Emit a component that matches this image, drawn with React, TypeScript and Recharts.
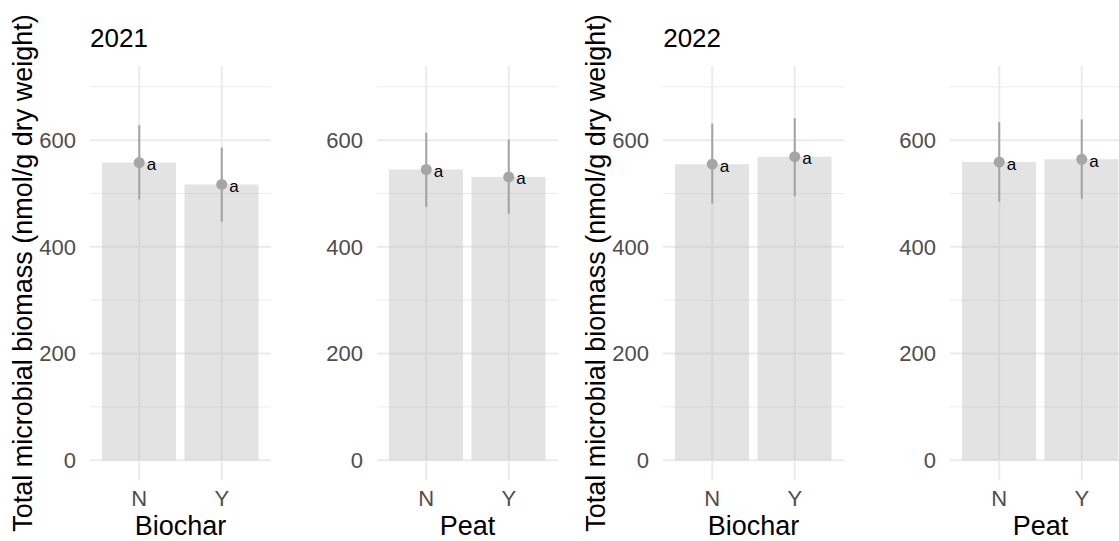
import React from 'react';
import { ComposedChart, Bar, Scatter, ErrorBar, XAxis, YAxis, CartesianGrid } from 'recharts';

// one entry per panel, left to right
const categories = ['N', 'Y'];
const panelYears = ['2021', '', '2022', ''];
const panelFactors = ['Biochar', 'Peat', 'Biochar', 'Peat'];
const showYTitle = [true, false, true, false];
const means = [[558, 517], [545, 531], [555, 569], [559, 564]];
const lows = [[489, 447], [475, 462], [481, 495], [485, 490]];
const highs = [[628, 586], [614, 601], [631, 641], [634, 639]];
const letters = [['a', 'a'], ['a', 'a'], ['a', 'a'], ['a', 'a']];
const majorTicks = [0, 200, 400, 600];
const minorTicks = [100, 300, 500, 700];
const yTitle = 'Total microbial biomass (nmol/g dry weight)';

const FONT = '"Liberation Sans", Arial, sans-serif';
const PANEL_W = 286.6;
const CHART_W = 287;
const CHART_H = 541;

const tick = { fill: '#4d4d4d', fontSize: 22, fontFamily: FONT };

const PointWithLetter = (p: any) => {
  const { cx, cy, payload } = p;
  if (cx == null || cy == null) return null;
  return (
    <g>
      <circle cx={cx} cy={cy} r={5.5} fill="#a6a6a6" />
      <text x={cx + 7.5} y={cy + 7.5} fontSize={17} fill="#000" fontFamily={FONT}>{payload.letter}</text>
    </g>
  );
};

const YTitle = () => (
  <text x={32} y={273} transform="rotate(-90, 32, 273)" textAnchor="middle"
    fontSize={27} fill="#000" fontFamily={FONT}>{yTitle}</text>
);

const XTitle = (label: string) => (props: any) => {
  const vb = props.viewBox || {};
  return (
    <text x={vb.x + vb.width / 2} y={535} textAnchor="middle" fontSize={27} fill="#000" fontFamily={FONT}>{label}</text>
  );
};

const Panel = ({ i }: { i: number }) => {
  const data = categories.map((c, k) => ({
    cat: c,
    mean: means[i][k],
    err: [means[i][k] - lows[i][k], highs[i][k] - means[i][k]],
    letter: letters[i][k],
  }));
  return (
    <div style={{ position: 'absolute', left: i * PANEL_W, top: 0, width: CHART_W, height: CHART_H }}>
      {panelYears[i] && (
        <div style={{ position: 'absolute', left: 90, top: 24.7, fontSize: 26, lineHeight: 1, color: '#000', fontFamily: FONT }}>
          {panelYears[i]}
        </div>
      )}
      <ComposedChart width={CHART_W} height={CHART_H} data={data}
        margin={{ top: 66, right: 16, bottom: 0, left: 0 }}>
        <CartesianGrid stroke="#ebebeb" strokeWidth={1} horizontalValues={minorTicks} vertical={false} syncWithTicks />
        <CartesianGrid stroke="#ebebeb" strokeWidth={2} horizontalValues={majorTicks} syncWithTicks />
        <XAxis dataKey="cat" type="category" padding={{ left: 8, right: 8 }} height={61}
          axisLine={false} tickLine={false} tickSize={0} tickMargin={10} tick={tick}
          label={{ content: XTitle(panelFactors[i]) }} />
        <YAxis type="number" domain={[-37, 739]} allowDataOverflow ticks={majorTicks} width={90}
          axisLine={false} tickLine={false} tickSize={0} tickMargin={14} tick={tick}
          label={showYTitle[i] ? { content: YTitle } : undefined} />
        <Bar dataKey="mean" barSize={74} fill="#bdbdbd" fillOpacity={0.42} isAnimationActive={false} />
        <Scatter dataKey="mean" fill="#a6a6a6" shape={PointWithLetter} isAnimationActive={false}>
          <ErrorBar dataKey="err" direction="y" width={0} stroke="#a3a3a3" strokeWidth={2} />
        </Scatter>
      </ComposedChart>
    </div>
  );
};

export default function App() {
  return (
    <div style={{ position: 'absolute', left: 0, top: 0, width: 1119, height: 541, overflow: 'hidden', background: '#fff' }}>
      {categories.length > 0 && [0, 1, 2, 3].map(i => <Panel key={i} i={i} />)}
    </div>
  );
}
